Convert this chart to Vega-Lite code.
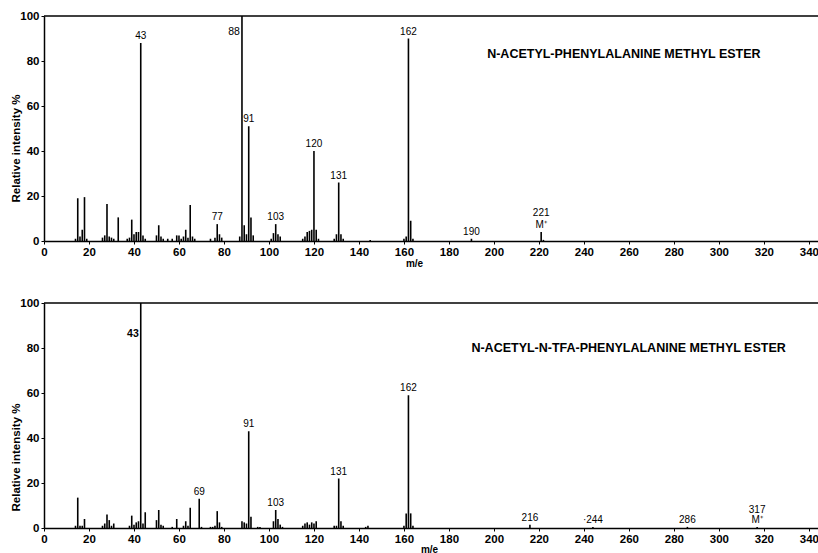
{
  "$schema": "https://vega.github.io/schema/vega-lite/v6.json",
  "background": "white",
  "padding": {"top": 10, "left": 10, "right": 0, "bottom": 0},
  "bounds": "flush",
  "spacing": 62,
  "config": {
    "view": {"stroke": null},
    "axis": {
      "grid": false,
      "labelFont": "Liberation Sans",
      "labelFontWeight": "bold",
      "labelFontSize": 11.5,
      "labelColor": "black",
      "domainColor": "black",
      "domainWidth": 1.5,
      "tickColor": "black",
      "tickWidth": 1,
      "tickSize": 3,
      "labelPadding": 2,
      "labelFlush": false,
      "labelOverlap": false,
      "titleFont": "Liberation Sans",
      "titleFontWeight": "bold",
      "titleFontSize": 11.5,
      "titleColor": "black"
    }
  },
  "datasets": {
    "top": [
      {"mz": 14, "intensity": 1},
      {"mz": 15, "intensity": 19},
      {"mz": 16, "intensity": 2},
      {"mz": 17, "intensity": 5},
      {"mz": 18, "intensity": 19.5},
      {"mz": 19, "intensity": 1},
      {"mz": 26, "intensity": 1.5},
      {"mz": 27, "intensity": 2.5},
      {"mz": 28, "intensity": 16.5},
      {"mz": 29, "intensity": 2},
      {"mz": 30, "intensity": 1.5},
      {"mz": 31, "intensity": 1},
      {"mz": 33, "intensity": 10.5},
      {"mz": 37, "intensity": 1},
      {"mz": 38, "intensity": 1.5},
      {"mz": 39, "intensity": 9.5},
      {"mz": 40, "intensity": 3},
      {"mz": 41, "intensity": 4},
      {"mz": 42, "intensity": 4},
      {"mz": 43, "intensity": 88, "label": "43"},
      {"mz": 44, "intensity": 2.5},
      {"mz": 45, "intensity": 1},
      {"mz": 50, "intensity": 2.5},
      {"mz": 51, "intensity": 7},
      {"mz": 52, "intensity": 2},
      {"mz": 53, "intensity": 1},
      {"mz": 55, "intensity": 1},
      {"mz": 57, "intensity": 1},
      {"mz": 59, "intensity": 2.5},
      {"mz": 60, "intensity": 2.5},
      {"mz": 61, "intensity": 1},
      {"mz": 62, "intensity": 2},
      {"mz": 63, "intensity": 5},
      {"mz": 64, "intensity": 1.5},
      {"mz": 65, "intensity": 16},
      {"mz": 66, "intensity": 2},
      {"mz": 67, "intensity": 1},
      {"mz": 74, "intensity": 1},
      {"mz": 76, "intensity": 1.5},
      {"mz": 77, "intensity": 7.5, "label": "77"},
      {"mz": 78, "intensity": 3},
      {"mz": 79, "intensity": 1.5},
      {"mz": 87, "intensity": 2},
      {"mz": 88, "intensity": 100, "label": "88"},
      {"mz": 89, "intensity": 7},
      {"mz": 90, "intensity": 3},
      {"mz": 91, "intensity": 51, "label": "91"},
      {"mz": 92, "intensity": 10.5},
      {"mz": 93, "intensity": 2.5},
      {"mz": 101, "intensity": 1},
      {"mz": 102, "intensity": 3.5},
      {"mz": 103, "intensity": 7.5, "label": "103"},
      {"mz": 104, "intensity": 3},
      {"mz": 105, "intensity": 2},
      {"mz": 115, "intensity": 1},
      {"mz": 116, "intensity": 2},
      {"mz": 117, "intensity": 4},
      {"mz": 118, "intensity": 4.5},
      {"mz": 119, "intensity": 5},
      {"mz": 120, "intensity": 40, "label": "120"},
      {"mz": 121, "intensity": 5},
      {"mz": 122, "intensity": 1},
      {"mz": 129, "intensity": 1},
      {"mz": 130, "intensity": 3},
      {"mz": 131, "intensity": 26, "label": "131"},
      {"mz": 132, "intensity": 3},
      {"mz": 133, "intensity": 1},
      {"mz": 145, "intensity": 0.5},
      {"mz": 160, "intensity": 1},
      {"mz": 161, "intensity": 2},
      {"mz": 162, "intensity": 90, "label": "162"},
      {"mz": 163, "intensity": 9},
      {"mz": 164, "intensity": 1},
      {"mz": 190, "intensity": 1, "label": "190"},
      {"mz": 221, "intensity": 4, "label": "221\nM⁺"},
      {"mz": 222, "intensity": 0.5}
    ],
    "bottom": [
      {"mz": 14, "intensity": 1},
      {"mz": 15, "intensity": 13.5},
      {"mz": 16, "intensity": 1},
      {"mz": 17, "intensity": 1},
      {"mz": 18, "intensity": 4},
      {"mz": 26, "intensity": 1},
      {"mz": 27, "intensity": 2},
      {"mz": 28, "intensity": 6},
      {"mz": 29, "intensity": 3.5},
      {"mz": 30, "intensity": 1},
      {"mz": 31, "intensity": 2},
      {"mz": 38, "intensity": 1},
      {"mz": 39, "intensity": 5.5},
      {"mz": 40, "intensity": 1.5},
      {"mz": 41, "intensity": 2.5},
      {"mz": 42, "intensity": 3},
      {"mz": 43, "intensity": 100, "label": "43"},
      {"mz": 44, "intensity": 2},
      {"mz": 45, "intensity": 7},
      {"mz": 50, "intensity": 3.5},
      {"mz": 51, "intensity": 8},
      {"mz": 52, "intensity": 1.5},
      {"mz": 53, "intensity": 1},
      {"mz": 57, "intensity": 0.5},
      {"mz": 59, "intensity": 4},
      {"mz": 62, "intensity": 1},
      {"mz": 63, "intensity": 3},
      {"mz": 64, "intensity": 1},
      {"mz": 65, "intensity": 9},
      {"mz": 69, "intensity": 13, "label": "69"},
      {"mz": 70, "intensity": 0.5},
      {"mz": 74, "intensity": 0.5},
      {"mz": 75, "intensity": 0.5},
      {"mz": 76, "intensity": 1},
      {"mz": 77, "intensity": 7.5},
      {"mz": 78, "intensity": 2.5},
      {"mz": 79, "intensity": 0.5},
      {"mz": 88, "intensity": 3},
      {"mz": 89, "intensity": 2.5},
      {"mz": 90, "intensity": 2},
      {"mz": 91, "intensity": 43, "label": "91"},
      {"mz": 92, "intensity": 5},
      {"mz": 95, "intensity": 0.5},
      {"mz": 96, "intensity": 0.5},
      {"mz": 102, "intensity": 3},
      {"mz": 103, "intensity": 8, "label": "103"},
      {"mz": 104, "intensity": 4},
      {"mz": 105, "intensity": 1.5},
      {"mz": 106, "intensity": 0.5},
      {"mz": 115, "intensity": 1},
      {"mz": 116, "intensity": 2},
      {"mz": 117, "intensity": 2.5},
      {"mz": 118, "intensity": 1.5},
      {"mz": 119, "intensity": 2.5},
      {"mz": 120, "intensity": 2},
      {"mz": 121, "intensity": 3},
      {"mz": 129, "intensity": 1},
      {"mz": 130, "intensity": 1},
      {"mz": 131, "intensity": 22, "label": "131"},
      {"mz": 132, "intensity": 3},
      {"mz": 133, "intensity": 1},
      {"mz": 143, "intensity": 0.5},
      {"mz": 144, "intensity": 1},
      {"mz": 160, "intensity": 1},
      {"mz": 161, "intensity": 6.5},
      {"mz": 162, "intensity": 59, "label": "162"},
      {"mz": 163, "intensity": 6.5},
      {"mz": 164, "intensity": 1},
      {"mz": 216, "intensity": 1.5, "label": "216"},
      {"mz": 244, "intensity": 0.5, "label": "·244"},
      {"mz": 286, "intensity": 0.5, "label": "286"},
      {"mz": 317, "intensity": 0.5, "label": "317\nM⁺"}
    ]
  },
  "vconcat": [
    {
      "width": 775,
      "height": 225,
      "data": {"name": "top"},
      "layer": [
        {
          "data": {"values": [{}]},
          "mark": {"type": "rule", "color": "black", "strokeWidth": 1.5},
          "encoding": {"y": {"datum": 100, "type": "quantitative"}}
        },
        {
          "mark": {"type": "rule", "color": "black", "strokeWidth": 1.6},
          "encoding": {
            "x": {
              "field": "mz", "type": "quantitative",
              "scale": {"domain": [0, 344.5], "nice": false, "zero": false},
              "axis": {
                "values": [0,10,20,30,40,50,60,70,80,90,100,110,120,130,140,150,160,170,180,190,200,210,220,230,240,250,260,270,280,290,300,310,320,330,340],
                "labelExpr": "datum.value % 20 === 0 ? datum.label : ''",
                "title": "m/e", "titleX": 370, "titleY": 22, "titleAlign": "center", "titleBaseline": "middle", "titleFontSize": 10
              }
            },
            "y": {
              "field": "intensity", "type": "quantitative",
              "scale": {"domain": [0, 100], "nice": false},
              "axis": {
                "values": [0,10,20,30,40,50,60,70,80,90,100],
                "labelExpr": "datum.value % 20 === 0 ? datum.label : ''",
                "title": "Relative intensity %", "titleX": -28, "titleY": 132, "titleAngle": 270, "titleAlign": "center", "titleBaseline": "middle"
              }
            },
            "y2": {"datum": 0}
          }
        },
        {
          "transform": [{"filter": "datum.label && datum.intensity < 100 && indexof(datum.label, 'M') < 0"}],
          "mark": {"type": "text", "font": "Liberation Sans", "fontSize": 10, "color": "black", "baseline": "bottom", "dy": -2},
          "encoding": {
            "x": {"field": "mz", "type": "quantitative"},
            "y": {"field": "intensity", "type": "quantitative"},
            "text": {"field": "label"}
          }
        },
        {
          "transform": [{"filter": "datum.label && indexof(datum.label, 'M') >= 0"}],
          "mark": {"type": "text", "font": "Liberation Sans", "fontSize": 10, "color": "black", "baseline": "bottom", "dy": -14, "lineBreak": "\n", "lineHeight": 12},
          "encoding": {
            "x": {"field": "mz", "type": "quantitative"},
            "y": {"field": "intensity", "type": "quantitative"},
            "text": {"field": "label"}
          }
        },
        {
          "transform": [{"filter": "datum.label && datum.intensity >= 100"}],
          "mark": {"type": "text", "font": "Liberation Sans", "fontSize": 10.5, "color": "black", "align": "right", "baseline": "middle", "dx": -2, "dy": 16},
          "encoding": {
            "x": {"field": "mz", "type": "quantitative"},
            "y": {"field": "intensity", "type": "quantitative"},
            "text": {"field": "label"}
          }
        },
        {
          "data": {"values": [{}]},
          "mark": {"type": "text", "font": "Liberation Sans", "fontWeight": "bold", "fontSize": 12.5, "color": "black", "align": "left", "baseline": "middle"},
          "encoding": {
            "x": {"datum": 197, "type": "quantitative"},
            "y": {"datum": 83, "type": "quantitative"},
            "text": {"value": "N-ACETYL-PHENYLALANINE METHYL  ESTER"}
          }
        }
      ]
    },
    {
      "width": 775,
      "height": 225,
      "data": {"name": "bottom"},
      "layer": [
        {
          "data": {"values": [{}]},
          "mark": {"type": "rule", "color": "black", "strokeWidth": 1.5},
          "encoding": {"y": {"datum": 100, "type": "quantitative"}}
        },
        {
          "mark": {"type": "rule", "color": "black", "strokeWidth": 1.6},
          "encoding": {
            "x": {
              "field": "mz", "type": "quantitative",
              "scale": {"domain": [0, 344.5], "nice": false, "zero": false},
              "axis": {
                "values": [0,10,20,30,40,50,60,70,80,90,100,110,120,130,140,150,160,170,180,190,200,210,220,230,240,250,260,270,280,290,300,310,320,330,340],
                "labelExpr": "datum.value % 20 === 0 ? datum.label : ''",
                "title": "m/e", "titleX": 385, "titleY": 21, "titleAlign": "center", "titleBaseline": "middle", "titleFontSize": 10
              }
            },
            "y": {
              "field": "intensity", "type": "quantitative",
              "scale": {"domain": [0, 100], "nice": false},
              "axis": {
                "values": [0,10,20,30,40,50,60,70,80,90,100],
                "labelExpr": "datum.value % 20 === 0 ? datum.label : ''",
                "title": "Relative intensity %", "titleX": -28, "titleY": 154, "titleAngle": 270, "titleAlign": "center", "titleBaseline": "middle"
              }
            },
            "y2": {"datum": 0}
          }
        },
        {
          "transform": [{"filter": "datum.label && datum.intensity < 100 && indexof(datum.label, 'M') < 0"}],
          "mark": {"type": "text", "font": "Liberation Sans", "fontSize": 10, "color": "black", "baseline": "bottom", "dy": -2},
          "encoding": {
            "x": {"field": "mz", "type": "quantitative"},
            "y": {"field": "intensity", "type": "quantitative"},
            "text": {"field": "label"}
          }
        },
        {
          "transform": [{"filter": "datum.label && indexof(datum.label, 'M') >= 0"}],
          "mark": {"type": "text", "font": "Liberation Sans", "fontSize": 10, "color": "black", "baseline": "bottom", "dy": -12, "lineBreak": "\n", "lineHeight": 10},
          "encoding": {
            "x": {"field": "mz", "type": "quantitative"},
            "y": {"field": "intensity", "type": "quantitative"},
            "text": {"field": "label"}
          }
        },
        {
          "transform": [{"filter": "datum.label && datum.intensity >= 100"}],
          "mark": {"type": "text", "font": "Liberation Sans", "fontSize": 10.5, "fontWeight": "bold", "color": "black", "align": "right", "baseline": "middle", "dx": -2, "dy": 31},
          "encoding": {
            "x": {"field": "mz", "type": "quantitative"},
            "y": {"field": "intensity", "type": "quantitative"},
            "text": {"field": "label"}
          }
        },
        {
          "data": {"values": [{}]},
          "mark": {"type": "text", "font": "Liberation Sans", "fontWeight": "bold", "fontSize": 12.5, "color": "black", "align": "left", "baseline": "middle"},
          "encoding": {
            "x": {"datum": 190, "type": "quantitative"},
            "y": {"datum": 80, "type": "quantitative"},
            "text": {"value": "N-ACETYL-N-TFA-PHENYLALANINE METHYL ESTER"}
          }
        }
      ]
    }
  ]
}
